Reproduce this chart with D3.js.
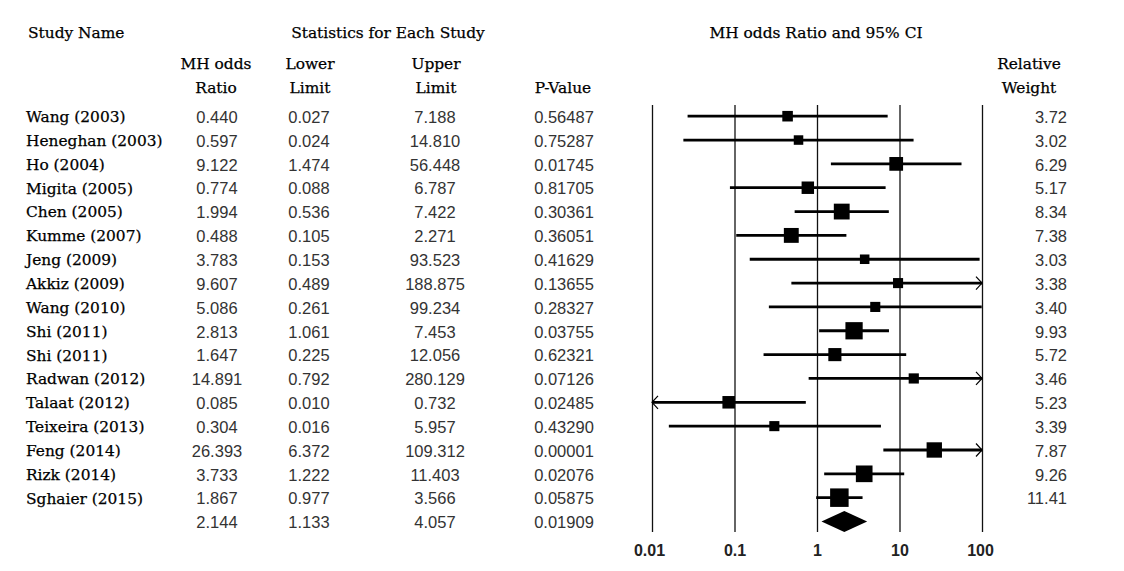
<!DOCTYPE html>
<html>
<head>
<meta charset="utf-8">
<script src="https://cdn.jsdelivr.net/npm/d3@7"></script>
<style>
  body { margin: 0; background: #fff; }
  svg { display: block; }
</style>
</head>
<body>
<div id="chart"></div>
<script>
// forest plot data
const studies = ["Wang (2003)", "Heneghan (2003)", "Ho (2004)", "Migita (2005)", "Chen (2005)",
    "Kumme (2007)", "Jeng (2009)", "Akkiz (2009)", "Wang (2010)", "Shi (2011)", "Shi (2011)",
    "Radwan (2012)", "Talaat (2012)", "Teixeira (2013)", "Feng (2014)", "Rizk (2014)", "Sghaier (2015)"];
const oddsRatio = [0.440, 0.597, 9.122, 0.774, 1.994, 0.488, 3.783, 9.607, 5.086, 2.813, 1.647,
    14.891, 0.085, 0.304, 26.393, 3.733, 1.867];
const lowerLimit = [0.027, 0.024, 1.474, 0.088, 0.536, 0.105, 0.153, 0.489, 0.261, 1.061, 0.225,
    0.792, 0.010, 0.016, 6.372, 1.222, 0.977];
const upperLimit = [7.188, 14.810, 56.448, 6.787, 7.422, 2.271, 93.523, 188.875, 99.234, 7.453, 12.056,
    280.129, 0.732, 5.957, 109.312, 11.403, 3.566];
const pValue = [0.56487, 0.75287, 0.01745, 0.81705, 0.30361, 0.36051, 0.41629, 0.13655, 0.28327, 0.03755,
    0.62321, 0.07126, 0.02485, 0.43290, 0.00001, 0.02076, 0.05875];
const relWeight = [3.72, 3.02, 6.29, 5.17, 8.34, 7.38, 3.03, 3.38, 3.40, 9.93, 5.72, 3.46, 5.23, 3.39,
    7.87, 9.26, 11.41];
const summary = {or: 2.144, lower: 1.133, upper: 4.057, p: 0.01909};
const axisTicks = [0.01, 0.1, 1, 10, 100];
const axisLabels = ["0.01", "0.1", "1", "10", "100"];

const width = 1124, height = 571;
const serif = "'DejaVu Serif', serif";
const sans = "'Liberation Sans', Arial, sans-serif";

const svg = d3.select("#chart").append("svg")
    .attr("width", width)
    .attr("height", height);

// scales
const x = d3.scaleLog().domain([0.01, 100]).range([652, 982]);
const y = d3.scalePoint().domain(d3.range(studies.length + 1)).range([116.2, 521.5]);
const side = d3.scaleSqrt().domain([0, 11.41]).range([0, 18.5]);

const f3 = d3.format(".3f"), f5 = d3.format(".5f"), f2 = d3.format(".2f");

// headers
function header(txt, xPos, yPos, anchor) {
    svg.append("text")
        .attr("x", xPos)
        .attr("y", yPos)
        .attr("text-anchor", anchor || "middle")
        .style("font-family", serif)
        .style("font-size", "15.4px")
        .style("fill", "#000")
        .style("stroke", "#000")
        .style("stroke-width", 0.25)
        .text(txt);
}
header("Study Name", 28, 37.5, "start");
header("Statistics for Each Study", 388, 37.5);
header("MH odds Ratio and 95% CI", 816, 37.5);
header("MH odds", 216, 69);
header("Ratio", 216, 93);
header("Lower", 310, 69);
header("Limit", 310, 93);
header("Upper", 436, 69);
header("Limit", 436, 93);
header("P-Value", 563, 93);
header("Relative", 1029, 69);
header("Weight", 1029, 93);

// axis with full-height grid lines
const plotTop = 105, plotBottom = 532;
const xAxis = d3.axisBottom(x)
    .tickValues(axisTicks)
    .tickFormat((d, i) => axisLabels[i])
    .tickSize(-(plotBottom - plotTop))
    .tickPadding(12.5);

const gAxis = svg.append("g")
    .attr("transform", "translate(0," + plotBottom + ")")
    .call(xAxis);
gAxis.select(".domain").remove();
gAxis.selectAll(".tick line").attr("stroke", "#111").attr("stroke-width", 1.3);
gAxis.selectAll(".tick text")
    .attr("dx", (d, i) => i === 0 ? -3 : (i === 4 ? -2 : 0))
    .style("font-family", sans)
    .style("font-size", "16px")
    .style("font-weight", "700")
    .style("fill", "#222");

// table rows
const rows = studies.map((s, i) => ({
    name: s, or: oddsRatio[i], lo: lowerLimit[i], hi: upperLimit[i], p: pValue[i], w: relWeight[i], i: i
}));

function cell(txt, xPos, yPos, anchor, font, size, color, bold) {
    svg.append("text")
        .attr("x", xPos)
        .attr("y", yPos)
        .attr("dy", "0.35em")
        .attr("text-anchor", anchor)
        .style("font-family", font)
        .style("font-size", size)
        .style("fill", color)
        .style("stroke", bold ? color : "none")
        .style("stroke-width", bold ? 0.25 : 0)
        .text(txt);
}

rows.forEach(d => {
    let ry = y(d.i);
    cell(d.name, 26, ry + 0.5, "start", serif, "15.4px", "#000", true);
    cell(f3(d.or), 217, ry + 1, "middle", sans, "16.5px", "#333");
    cell(f3(d.lo), 309, ry + 1, "middle", sans, "16.5px", "#333");
    cell(f3(d.hi), 435, ry + 1, "middle", sans, "16.5px", "#333");
    cell(f5(d.p), 564, ry + 1, "middle", sans, "16.5px", "#333");
    cell(f2(d.w), 1067, ry + 1, "end", sans, "16.5px", "#333");
});

// summary row numbers
const sy = y(studies.length);
cell(f3(summary.or), 217, sy + 1, "middle", sans, "16.5px", "#333");
cell(f3(summary.lower), 309, sy + 1, "middle", sans, "16.5px", "#333");
cell(f3(summary.upper), 435, sy + 1, "middle", sans, "16.5px", "#333");
cell(f5(summary.p), 564, sy + 1, "middle", sans, "16.5px", "#333");

// confidence intervals
const lo = x.domain()[0], hi = x.domain()[1];
const ci = svg.append("g");

ci.selectAll(".ci-line")
    .data(rows)
    .enter()
    .append("line")
    .attr("class", "ci-line")
    .attr("x1", d => x(Math.max(d.lo, lo)))
    .attr("x2", d => x(Math.min(d.hi, hi)))
    .attr("y1", d => y(d.i))
    .attr("y2", d => y(d.i))
    .attr("stroke", "#000")
    .attr("stroke-width", 2.8);

// arrows where the interval runs off the scale
const arrowPath = (xe, ye, dir) =>
    "M" + (xe - dir * 6) + "," + (ye - 6.5) + "L" + xe + "," + ye + "L" + (xe - dir * 6) + "," + (ye + 6.5);

ci.selectAll(".arrow-right")
    .data(rows.filter(d => d.hi > hi))
    .enter()
    .append("path")
    .attr("class", "arrow-right")
    .attr("d", d => arrowPath(x(hi), y(d.i), 1))
    .attr("fill", "none")
    .attr("stroke", "#000")
    .attr("stroke-width", 1.2);

ci.selectAll(".arrow-left")
    .data(rows.filter(d => d.lo <= lo))
    .enter()
    .append("path")
    .attr("class", "arrow-left")
    .attr("d", d => arrowPath(x(lo), y(d.i), -1))
    .attr("fill", "none")
    .attr("stroke", "#000")
    .attr("stroke-width", 1.2);

// weighted squares
ci.selectAll(".box")
    .data(rows)
    .enter()
    .append("rect")
    .attr("class", "box")
    .attr("x", d => x(d.or) - side(d.w) / 2)
    .attr("y", d => y(d.i) - side(d.w) / 2)
    .attr("width", d => side(d.w))
    .attr("height", d => side(d.w))
    .attr("fill", "#000");

// pooled estimate diamond
const dh = 10.5;
svg.append("path")
    .attr("d", "M" + x(summary.lower) + "," + sy +
        "L" + x(summary.or) + "," + (sy - dh) +
        "L" + x(summary.upper) + "," + sy +
        "L" + x(summary.or) + "," + (sy + dh) + "Z")
    .attr("fill", "#000");
</script>
</body>
</html>
